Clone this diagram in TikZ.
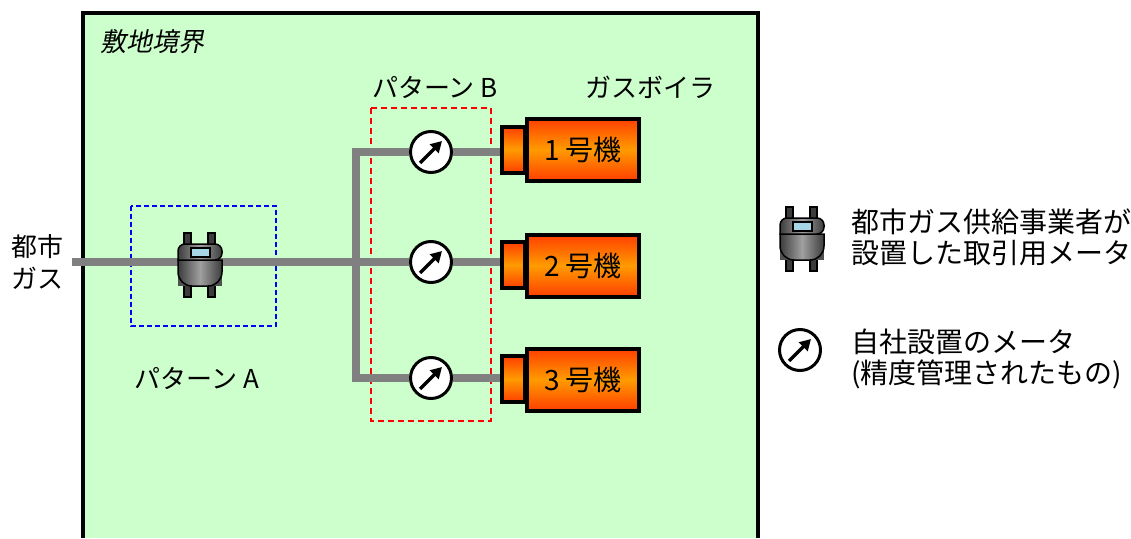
\documentclass[tikz,border=0pt]{standalone}
\usepackage{fontspec}
\setmainfont{Noto Sans CJK JP}
\newfontfamily\slantfont[FakeSlant=0.2]{Noto Sans CJK JP}
\usetikzlibrary{arrows.meta}
\usetikzlibrary{positioning}

\definecolor{sitegreen}{RGB}{204,255,204}
\definecolor{pipegray}{RGB}{128,128,128}
\definecolor{boilred}{RGB}{255,62,0}
\definecolor{boilorange}{RGB}{255,155,0}
\definecolor{winblue}{RGB}{165,215,230}
\definecolor{metaldark}{RGB}{60,60,60}
\definecolor{metallight}{RGB}{160,160,160}

\tikzset{
  txt/.style={font=\fontsize{26}{31}\selectfont, inner sep=0pt},
  pipe/.style={draw=pipegray, line width=8pt},
  gauge/.style={circle, draw, fill=white, line width=3pt, minimum size=41pt, inner sep=0pt},
  needle/.style={line width=3.5pt, -{Triangle[length=11pt,width=12pt]}},
  burner/.style={draw, line width=4pt, minimum width=23pt, minimum height=46pt, inner sep=0pt,
    top color=boilred, bottom color=boilred, middle color=boilorange},
  boiler/.style={burner, minimum width=112pt, minimum height=62pt, inner sep=0pt,
    font=\fontsize{28}{31}\selectfont},
  metal/.style={line width=1.5pt, left color=metaldark, right color=metaldark, middle color=metallight},
  gasmeter/.pic={
    % legs
    \draw[fill=metaldark, line width=1.5pt] (-16,-30) rectangle (-9,34);
    \draw[fill=metaldark, line width=1.5pt] (8,-30) rectangle (15,34);
    % body
    \fill[metaldark!90] (-22,-3) rectangle (22,23);
    \draw[metal] (-22,-3) -- (-22,9) arc[start angle=180, end angle=90, radius=14] -- (8,23)
      arc[start angle=90, end angle=0, radius=14] -- (22,-3) -- cycle;
    \draw[metal] (-22,-3) [rounded corners=7pt] -- (-22,-19) -- (22,-19) -- (22,-3) [sharp corners] -- cycle;
    % window
    \draw[fill=winblue, line width=1.2pt] (-9,-15) rectangle (10,-6);
  }
}

\begin{document}
\begin{tikzpicture}[x=1pt, y=-1pt]
\useasboundingbox (0,0) rectangle (1131,538);

% site
\fill[sitegreen] (83,13) rectangle (758,538);
\draw[line width=4pt] (83,538) -- (83,13) -- (758,13) -- (758,538);
\node[txt, anchor=west] (site) at (100,42) {\slantfont 敷地境界};

% pattern boxes
\draw[blue, line width=1.3pt, dash pattern=on 5pt off 3pt] (131,206) rectangle (276,326);
\draw[red, line width=1.6pt, dash pattern=on 6pt off 4pt] (371,108) rectangle (491,421);
\node[txt] (patA) at (197,378) {パターン A};
\node[txt] (patB) at (435,87) {パターン B};
\node[txt] (boilers) at (650,87) {ガスボイラ};
\node[txt, align=center, font=\fontsize{26}{32}\selectfont] (city) at (37,262) {都市\\ガス};

% meters
\node[gauge] (m1) at (431,152) {};
\node[gauge] (m2) at (431,262) {};
\node[gauge] (m3) at (431,378) {};

% boilers
\node[burner] (s1) at (513.5,149.5) {};
\node[boiler] (b1) at (583,149.5) {1 号機\hspace{8pt}};
\node[burner] (s2) at (513.5,265) {};
\node[boiler] (b2) at (583,265.5) {2 号機\hspace{8pt}};
\node[burner] (s3) at (513.5,379) {};
\node[boiler] (b3) at (583,379.5) {3 号機\hspace{8pt}};

% pipes
\coordinate (cityin) at (72,262);
\coordinate (j1) at (356,152);
\coordinate (j3) at (356,378);
\draw[pipe] (cityin) -- (m2);
\draw[pipe] (m1) -- (j1) -- (j3) -- (m3);
\draw[pipe] (m1) -- (m1 -| s1.west);
\draw[pipe] (m2) -- (m2 -| s2.west);
\draw[pipe] (m3) -- (m3 -| s3.west);

% needles
\draw[needle] ([shift={(-11,11)}]m1.center) -- ([shift={(11,-11)}]m1.center);
\draw[needle] ([shift={(-11,11)}]m2.center) -- ([shift={(11,-11)}]m2.center);
\draw[needle] ([shift={(-11,11)}]m3.center) -- ([shift={(11,-11)}]m3.center);

% supplier meter
\pic (gmA) at (200,263) {gasmeter};

% legend
\pic (gmkey) at (802,237) {gasmeter};
\node[txt, anchor=west, align=left, font=\fontsize{28}{31}\selectfont] (key1) at (851,237)
  {都市ガス供給事業者が\\設置した取引用メータ};
\node[gauge] (mkey) at (800,350) {};
\draw[needle] ([shift={(-11,11)}]mkey.center) -- ([shift={(11,-11)}]mkey.center);
\node[txt, anchor=west, align=left, font=\fontsize{28}{31}\selectfont] (key2) at (851,359)
  {自社設置のメータ\\(精度管理されたもの)};

\end{tikzpicture}
\end{document}
